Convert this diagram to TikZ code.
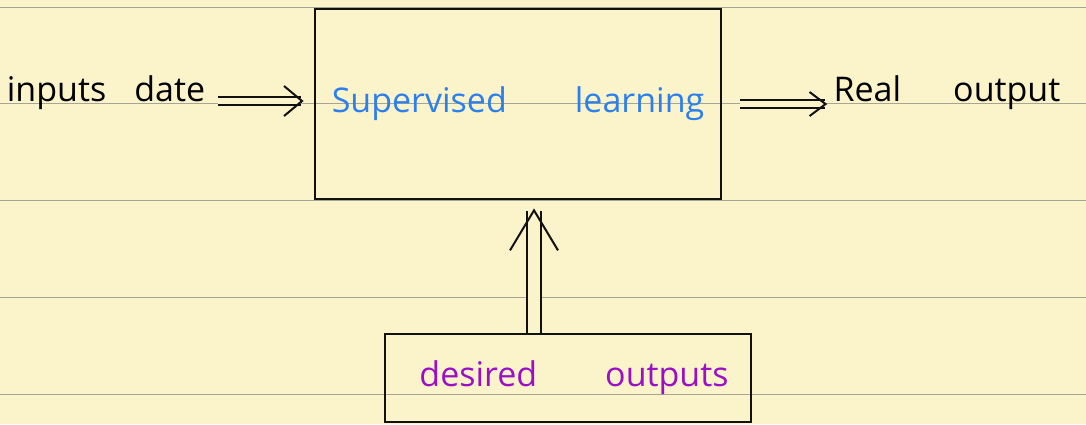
\documentclass[tikz,border=0pt]{standalone}
\usepackage{fontspec}
\setmainfont{Open Sans}
\usetikzlibrary{positioning, arrows.meta, calc}
\definecolor{paper}{HTML}{FBF4CA}
\definecolor{ruleline}{HTML}{A9A594}
\definecolor{inkblue}{HTML}{2B7FEF}
\definecolor{inkpurple}{HTML}{9B10C6}
\definecolor{ink}{HTML}{111111}

\begin{document}
\begin{tikzpicture}[x=0.5pt, y=-0.5pt,
    hand/.style={font=\fontsize{17}{19}\selectfont, inner sep=0pt},
    frame/.style={draw=ink, line width=1.4pt, inner sep=0pt},
    dbl/.style={draw=ink, line width=1pt, double=paper, double distance=#1},
    dbl/.default=2.6pt]
  % sheet of ruled paper
  \fill[paper] (0,0) rectangle (1086,424);
  \useasboundingbox (0,0) rectangle (1086,424);
  \foreach \y in {7,103,200,297,394}
    \draw[ruleline, line width=0.5pt] (0,\y) -- (1086,\y);

  \node[hand] (inp) at (106,93) {inputs\hspace{14pt}date};
  \node[frame, hand, text=inkblue, minimum width=203pt, minimum height=95pt] (sl) at (518,104)
    {Supervised\hspace{34pt}learning};
  \node[hand] (out) at (947,93) {Real\hspace{26pt}output};
  \node[frame, hand, text=inkpurple, minimum width=183pt, minimum height=44pt] (des) at (568,378)
    {\hspace*{6pt}desired\hspace{34pt}outputs};

  % arrows
  \draw[dbl, -{Straight Barb[length=9pt, width=15pt, line width=1pt]}]
    ([xshift=6pt, yshift=-4pt]inp.east) -- ([xshift=-5pt, yshift=-4pt]inp.east -| sl.west);
  \draw[dbl, -{Straight Barb[length=8pt, width=12pt, line width=1pt]}]
    ([xshift=9pt]sl.east) -- ([xshift=-3pt]sl.east -| out.west);
  \draw[dbl=6pt, -{Straight Barb[length=20pt, width=24pt, line width=1pt]}]
    ([xshift=-17pt]des.north) -- ([xshift=-17pt, yshift=-4pt]des.north |- sl.south);
\end{tikzpicture}
\end{document}
